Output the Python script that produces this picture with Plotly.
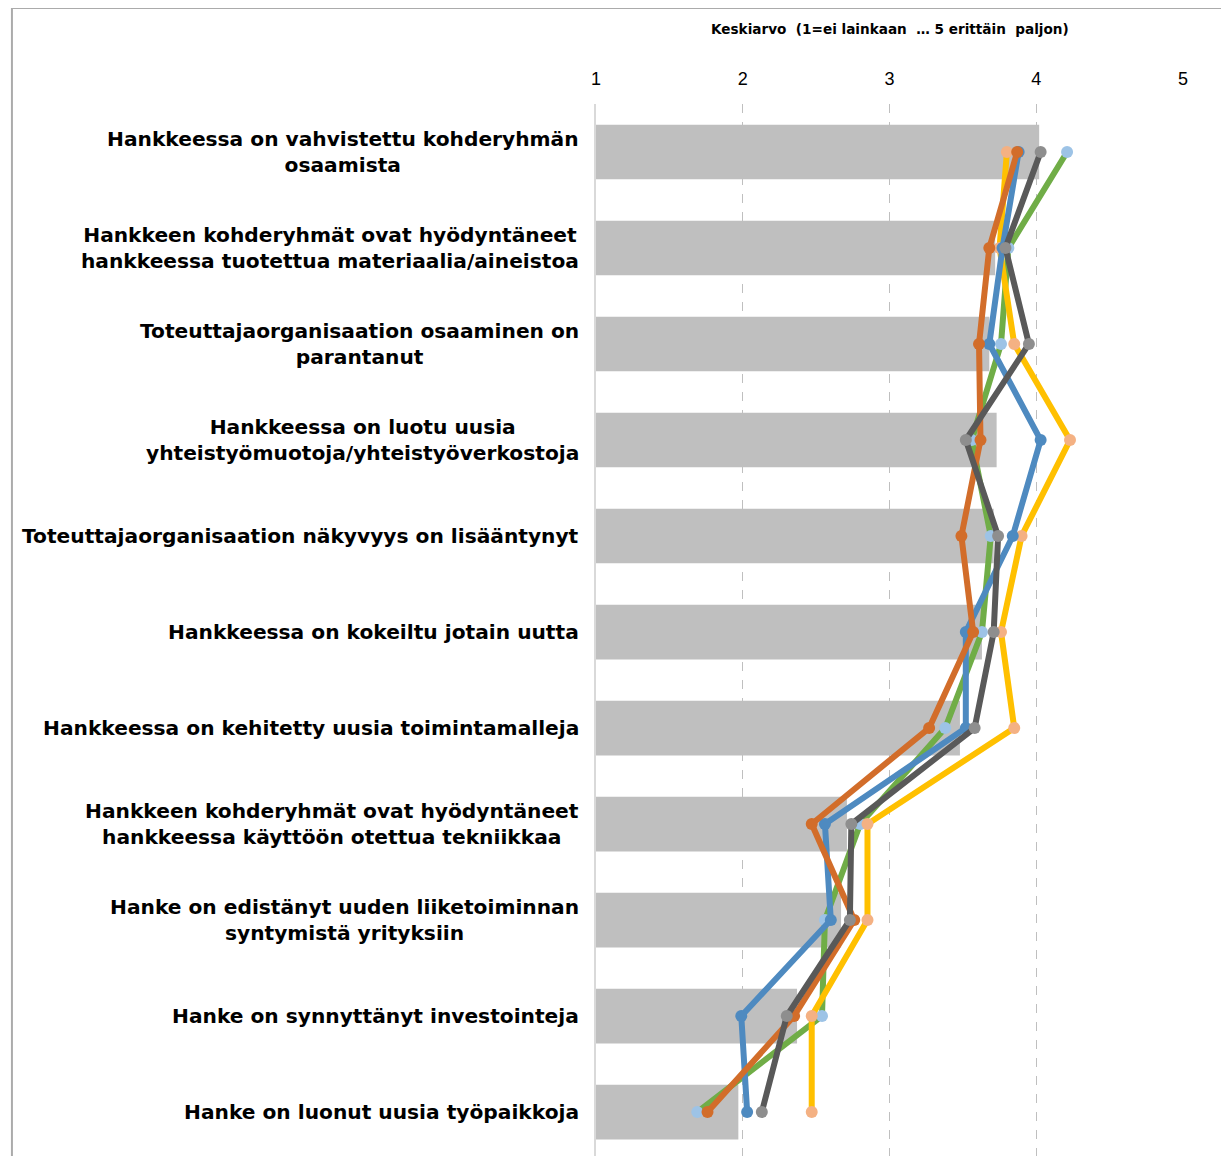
import plotly.graph_objects as go

categories = [
    "Hankkeessa on vahvistettu kohderyhmän<br>osaamista",
    "Hankkeen kohderyhmät ovat hyödyntäneet<br>hankkeessa tuotettua materiaalia/aineistoa",
    "Toteuttajaorganisaation osaaminen on<br>parantanut",
    "Hankkeessa on luotu uusia<br>yhteistyömuotoja/yhteistyöverkostoja",
    "Toteuttajaorganisaation näkyvyys on lisääntynyt",
    "Hankkeessa on kokeiltu jotain uutta",
    "Hankkeessa on kehitetty uusia toimintamalleja",
    "Hankkeen kohderyhmät ovat hyödyntäneet<br>hankkeessa käyttöön otettua tekniikkaa",
    "Hanke on edistänyt uuden liiketoiminnan<br>syntymistä yrityksiin",
    "Hanke on synnyttänyt investointeja",
    "Hanke on luonut uusia työpaikkoja",
]

bar_values = [4.02, 3.72, 3.68, 3.73, 3.71, 3.63, 3.48, 2.71, 2.67, 2.37, 1.97]

green_values = [4.21, 3.81, 3.76, 3.56, 3.69, 3.63, 3.38, 2.80, 2.56, 2.54, 1.69]
yellow_values = [3.80, 3.75, 3.85, 4.23, 3.90, 3.76, 3.85, 2.85, 2.85, 2.47, 2.47]
blue_values = [3.88, 3.77, 3.68, 4.03, 3.84, 3.52, 3.52, 2.56, 2.60, 1.99, 2.03]
orange_values = [3.87, 3.68, 3.61, 3.62, 3.49, 3.57, 3.27, 2.47, 2.76, 2.35, 1.76]
gray_values = [4.03, 3.79, 3.95, 3.52, 3.74, 3.71, 3.58, 2.74, 2.73, 2.30, 2.13]

x_ticks = [1, 2, 3, 4, 5]
axis_title = "Keskiarvo  (1=ei lainkaan  … 5 erittäin  paljon)"

idx = list(range(len(categories)))
LABEL_FONT = "DejaVu Sans, Arial, sans-serif"
TICK_FONT = "Liberation Sans, Arial, sans-serif"

fig = go.Figure()
fig.add_trace(go.Bar(
    x=bar_values, y=idx, orientation="h", width=0.57,
    marker=dict(color="#BFBFBF", line=dict(width=0)), showlegend=False,
))

series = [
    (green_values, "#70AD47", "#9DC3E6"),
    (yellow_values, "#FFC000", "#F4B183"),
    (blue_values, "#4E8AC0", "#4E8AC0"),
    (orange_values, "#D26D2A", "#D26D2A"),
    (gray_values, "#595959", "#8E8E8E"),
]
for vals, lc, mc in series:
    fig.add_trace(go.Scatter(
        x=vals, y=idx, mode="lines+markers",
        line=dict(color=lc, width=6),
        marker=dict(color=mc, size=12),
        showlegend=False,
    ))

# category labels as annotations (centered lines, right edge near axis)
for i, c in enumerate(categories):
    fig.add_annotation(
        x=-0.0255, xref="paper", y=i, yref="y", text=c, showarrow=False,
        xanchor="right", yanchor="middle", align="center",
        font=dict(family=LABEL_FONT, size=20.2, color="black", weight="bold"),
    )

fig.add_annotation(
    x=0.5, xref="paper", y=1.0713, yref="paper", text=axis_title,
    showarrow=False, xanchor="center", yanchor="middle",
    font=dict(family=LABEL_FONT, size=13.6, color="black", weight="bold"),
)

# outer frame
fig.add_shape(type="rect", xref="paper", yref="paper",
              x0=-0.995, x1=1.2, y0=-0.2, y1=1.0913,
              line=dict(color="#ABABAB", width=2), fillcolor="rgba(0,0,0,0)")

fig.update_layout(
    width=1213, height=1148,
    margin=dict(l=588, r=38, t=96, b=0),
    paper_bgcolor="white", plot_bgcolor="white",
    font=dict(family=TICK_FONT, color="black"),
    xaxis=dict(
        range=[1, 5], side="top", tickvals=x_ticks,
        tickfont=dict(size=18, color="black"),
        ticks="outside", ticklen=11, tickcolor="rgba(0,0,0,0)",
        showgrid=True, gridcolor="#BFBFBF", griddash="dash", gridwidth=1.3,
        zeroline=False, showline=False,
    ),
    yaxis=dict(
        range=[10.458, -0.5], showticklabels=False, showgrid=False,
        zeroline=False, showline=True, linecolor="#D9D9D9", linewidth=2,
        ticks="",
    ),
    bargap=0.43,
)

fig.write_html("out.html")
